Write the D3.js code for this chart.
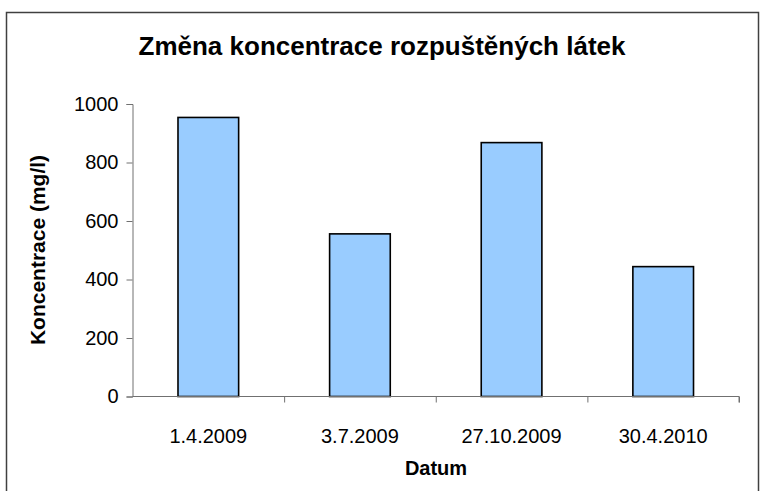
<!DOCTYPE html>
<html>
<head>
<meta charset="utf-8">
<script src="https://cdn.jsdelivr.net/npm/d3@7"></script>
<style>
  body { margin: 0; background: #fff; }
  text { font-family: Arial, "Liberation Sans", sans-serif; }
</style>
</head>
<body>
<script>
var dates = ['1.4.2009', '3.7.2009', '27.10.2009', '30.4.2010'];
var values = [954, 556, 868, 444];
var yTicks = [0, 200, 400, 600, 800, 1000];

var svg = d3.select('body').append('svg')
    .attr('width', 760)
    .attr('height', 491);

// chart frame
svg.append('rect')
    .attr('x', 6.5)
    .attr('y', 12.5)
    .attr('width', 752)
    .attr('height', 500)
    .attr('fill', 'white')
    .attr('stroke', '#404040')
    .attr('stroke-width', 1.5);

var plotL = 132.5, plotR = 739, plotT = 104, plotB = 396.5;

var x = d3.scaleBand()
    .domain(dates)
    .range([plotL, plotR])
    .paddingInner(0.6)
    .paddingOuter(0.3);

var xBound = d3.scaleLinear()
    .domain([0, dates.length])
    .range([plotL, plotR]);

var y = d3.scaleLinear()
    .domain([0, 1000])
    .range([plotB, plotT]);

svg.append('text')
    .attr('x', 382)
    .attr('y', 55)
    .attr('text-anchor', 'middle')
    .attr('font-size', 26)
    .attr('font-weight', 'bold')
    .text('Změna koncentrace rozpuštěných látek');

// bars
svg.selectAll('.bar')
    .data(values)
    .enter().append('rect')
    .attr('class', 'bar')
    .attr('x', function(d, i) { return x(dates[i]); })
    .attr('y', function(d) { return y(d); })
    .attr('width', x.bandwidth())
    .attr('height', function(d) { return y(0) - y(d); })
    .attr('fill', '#99ccff')
    .attr('stroke', '#000')
    .attr('stroke-width', 1.6);

// y axis
var yAxis = svg.append('g')
    .attr('transform', 'translate(' + plotL + ',0)')
    .call(d3.axisLeft(y).tickValues(yTicks).tickFormat(d3.format('d')).tickSize(6).tickPadding(8));
yAxis.select('.domain').attr('stroke', '#707070');
yAxis.selectAll('.tick line').attr('stroke', '#707070');
yAxis.selectAll('text')
    .attr('font-size', 20)
    .attr('font-family', 'Arial, "Liberation Sans", sans-serif')
    .attr('fill', '#000');

// x axis line and ticks at category boundaries
var xAxis = svg.append('g')
    .attr('transform', 'translate(0,' + plotB + ')')
    .call(d3.axisBottom(xBound).tickValues([1, 2, 3, 4]).tickSize(6).tickFormat(''));
xAxis.select('.domain').attr('stroke', '#707070').attr('d', 'M' + plotL + ',0H' + plotR + 'V6');
xAxis.selectAll('.tick line').attr('stroke', '#707070');

svg.selectAll('.xlab')
    .data(dates)
    .enter().append('text')
    .attr('class', 'xlab')
    .attr('x', function(d) { return x(d) + x.bandwidth() / 2; })
    .attr('y', plotB + 46)
    .attr('text-anchor', 'middle')
    .attr('font-size', 20)
    .text(function(d) { return d; });

svg.append('text')
    .attr('x', 436)
    .attr('y', 475)
    .attr('text-anchor', 'middle')
    .attr('font-size', 20)
    .attr('font-weight', 'bold')
    .text('Datum');

svg.append('text')
    .attr('transform', 'translate(45,250) rotate(-90)')
    .attr('text-anchor', 'middle')
    .attr('font-size', 21)
    .attr('font-weight', 'bold')
    .text('Koncentrace (mg/l)');
</script>
</body>
</html>
